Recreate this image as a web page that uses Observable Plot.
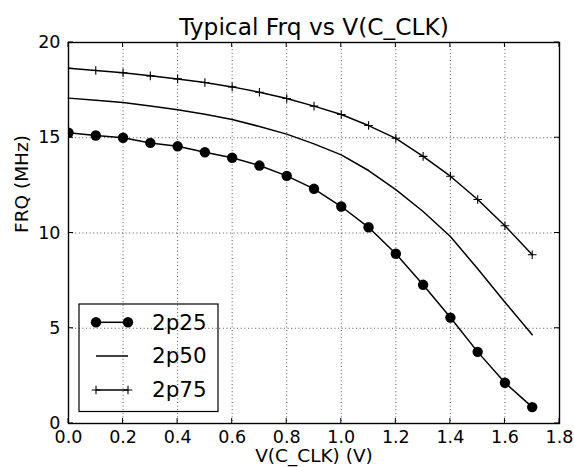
<!DOCTYPE html>
<html>
<head>
<meta charset="utf-8">
<script src="https://cdn.jsdelivr.net/npm/d3@7"></script>
<script src="https://cdn.jsdelivr.net/npm/@observablehq/plot@0.6"></script>
<style>
  html, body { margin: 0; padding: 0; background: #fff; }
  #chart svg { display: block; font-family: "DejaVu Sans", sans-serif; }
</style>
</head>
<body>
<div id="chart"></div>
<script>
const titleText = "Typical Frq vs V(C_CLK)";
const xLabel = "V(C_CLK) (V)";
const yLabel = "FRQ (MHz)";

const voltages = [0.0, 0.1, 0.2, 0.3, 0.4, 0.5, 0.6, 0.7, 0.8, 0.9, 1.0, 1.1, 1.2, 1.3, 1.4, 1.5, 1.6, 1.7];
const frq2p25 = [15.26, 15.12, 15.0, 14.73, 14.55, 14.24, 13.95, 13.54, 13.0, 12.32, 11.39, 10.3, 8.91, 7.28, 5.56, 3.76, 2.14, 0.86];
const frq2p50 = [17.08, 16.97, 16.85, 16.67, 16.47, 16.23, 15.96, 15.59, 15.19, 14.68, 14.1, 13.28, 12.28, 11.13, 9.82, 8.12, 6.37, 4.66];
const frq2p75 = [18.65, 18.53, 18.41, 18.25, 18.09, 17.9, 17.67, 17.39, 17.06, 16.66, 16.22, 15.64, 14.97, 14.02, 12.98, 11.76, 10.38, 8.86];
const seriesNames = ["2p25", "2p50", "2p75"];

const xTicks = [0.0, 0.2, 0.4, 0.6, 0.8, 1.0, 1.2, 1.4, 1.6, 1.8];
const yTicks = [0, 5, 10, 15, 20];

const toRows = (vals) => voltages.map((v, i) => ({v, f: vals[i]}));
const rows25 = toRows(frq2p25);
const rows50 = toRows(frq2p50);
const rows75 = toRows(frq2p75);

const plusSymbol = {
  draw(context, size) {
    const r = Math.sqrt(size / Math.PI);
    context.moveTo(-r, 0); context.lineTo(r, 0);
    context.moveTo(0, -r); context.lineTo(0, r);
  }
};

const gridStyle = {stroke: "#000", strokeOpacity: 0.85, strokeWidth: 0.8, strokeDasharray: "1,2.6"};

const chart = Plot.plot({
  width: 574,
  height: 467,
  marginLeft: 68,
  marginRight: 15,
  marginTop: 42,
  marginBottom: 44,
  style: {fontFamily: "DejaVu Sans, sans-serif", background: "#fff", color: "#000"},
  x: {domain: [0, 1.8]},
  y: {domain: [0, 20]},
  marks: [
    Plot.gridX(xTicks, gridStyle),
    Plot.gridY(yTicks, gridStyle),
    Plot.line(rows50, {x: "v", y: "f", stroke: "#000", strokeWidth: 1.5}),
    Plot.line(rows75, {x: "v", y: "f", stroke: "#000", strokeWidth: 1.5}),
    Plot.dot(rows75, {x: "v", y: "f", symbol: plusSymbol, r: 4.3, stroke: "#000", strokeWidth: 1.1, fill: "none", clip: true}),
    Plot.line(rows25, {x: "v", y: "f", stroke: "#000", strokeWidth: 1.5}),
    Plot.dot(rows25, {x: "v", y: "f", r: 5.2, fill: "#000", stroke: "none", clip: true}),
    Plot.frame({stroke: "#000", strokeWidth: 1.4}),
    Plot.axisX(xTicks, {anchor: "bottom", tickSize: 0, tickPadding: 7, tickFormat: d => d.toFixed(1), fontSize: 17.5, label: null}),
    Plot.axisY(yTicks, {anchor: "left", tickSize: 0, tickPadding: 8, tickFormat: d => String(d), fontSize: 17.5, label: null}),
    Plot.text([titleText], {frameAnchor: "top", dy: -8, lineAnchor: "bottom", fontSize: 23.3, fill: "#000"}),
    Plot.text([xLabel], {frameAnchor: "bottom", dy: 33, lineAnchor: "middle", fontSize: 18.5, fill: "#000"}),
    Plot.text([yLabel], {frameAnchor: "left", dx: -46.5, rotate: -90, lineAnchor: "middle", fontSize: 18.5, fill: "#000"})
  ]
});

const svg = d3.select(chart);
const sx = chart.scale("x"), sy = chart.scale("y");
const [fx0, fx1] = [sx.apply(0), sx.apply(1.8)];
const [fy0, fy1] = [sy.apply(0), sy.apply(20)];
const tickLen = 5;

// Inward tick marks on all four sides (positions from Plot's own scales)
const tg = svg.append("g").attr("stroke", "#000").attr("stroke-width", 1);
xTicks.forEach(t => {
  const px = sx.apply(t);
  tg.append("line").attr("x1", px).attr("x2", px).attr("y1", fy0).attr("y2", fy0 - tickLen);
  tg.append("line").attr("x1", px).attr("x2", px).attr("y1", fy1).attr("y2", fy1 + tickLen);
});
yTicks.forEach(t => {
  const py = sy.apply(t);
  tg.append("line").attr("x1", fx0).attr("x2", fx0 + tickLen).attr("y1", py).attr("y2", py);
  tg.append("line").attr("x1", fx1).attr("x2", fx1 - tickLen).attr("y1", py).attr("y2", py);
});

// Legend (transparent box inside the frame)
const lg = svg.append("g").attr("transform", "translate(79,304)");
lg.append("rect").attr("x", 0).attr("y", 0).attr("width", 139).attr("height", 107.5)
  .attr("fill", "none").attr("stroke", "#000").attr("stroke-width", 1.2);
const entryY = [18.3, 52, 86];
const x0 = 17, x1 = 49;
seriesNames.forEach((name, i) => {
  const y = entryY[i];
  lg.append("line").attr("x1", x0).attr("x2", x1).attr("y1", y).attr("y2", y)
    .attr("stroke", "#000").attr("stroke-width", 1.5);
  if (i === 0) {
    [x0, x1].forEach(x => lg.append("circle").attr("cx", x).attr("cy", y).attr("r", 5.2).attr("fill", "#000"));
  } else if (i === 2) {
    [x0, x1].forEach(x => lg.append("path")
      .attr("d", `M${x - 4.3},${y}H${x + 4.3}M${x},${y - 4.3}V${y + 4.3}`)
      .attr("stroke", "#000").attr("stroke-width", 1.1).attr("fill", "none"));
  }
  lg.append("text").attr("x", 73).attr("y", y + 7.2).attr("font-size", 21.5)
    .attr("text-anchor", "start")
    .attr("fill", "#000").attr("font-family", "DejaVu Sans, sans-serif").text(name);
});

document.getElementById("chart").appendChild(chart);
</script>
</body>
</html>
